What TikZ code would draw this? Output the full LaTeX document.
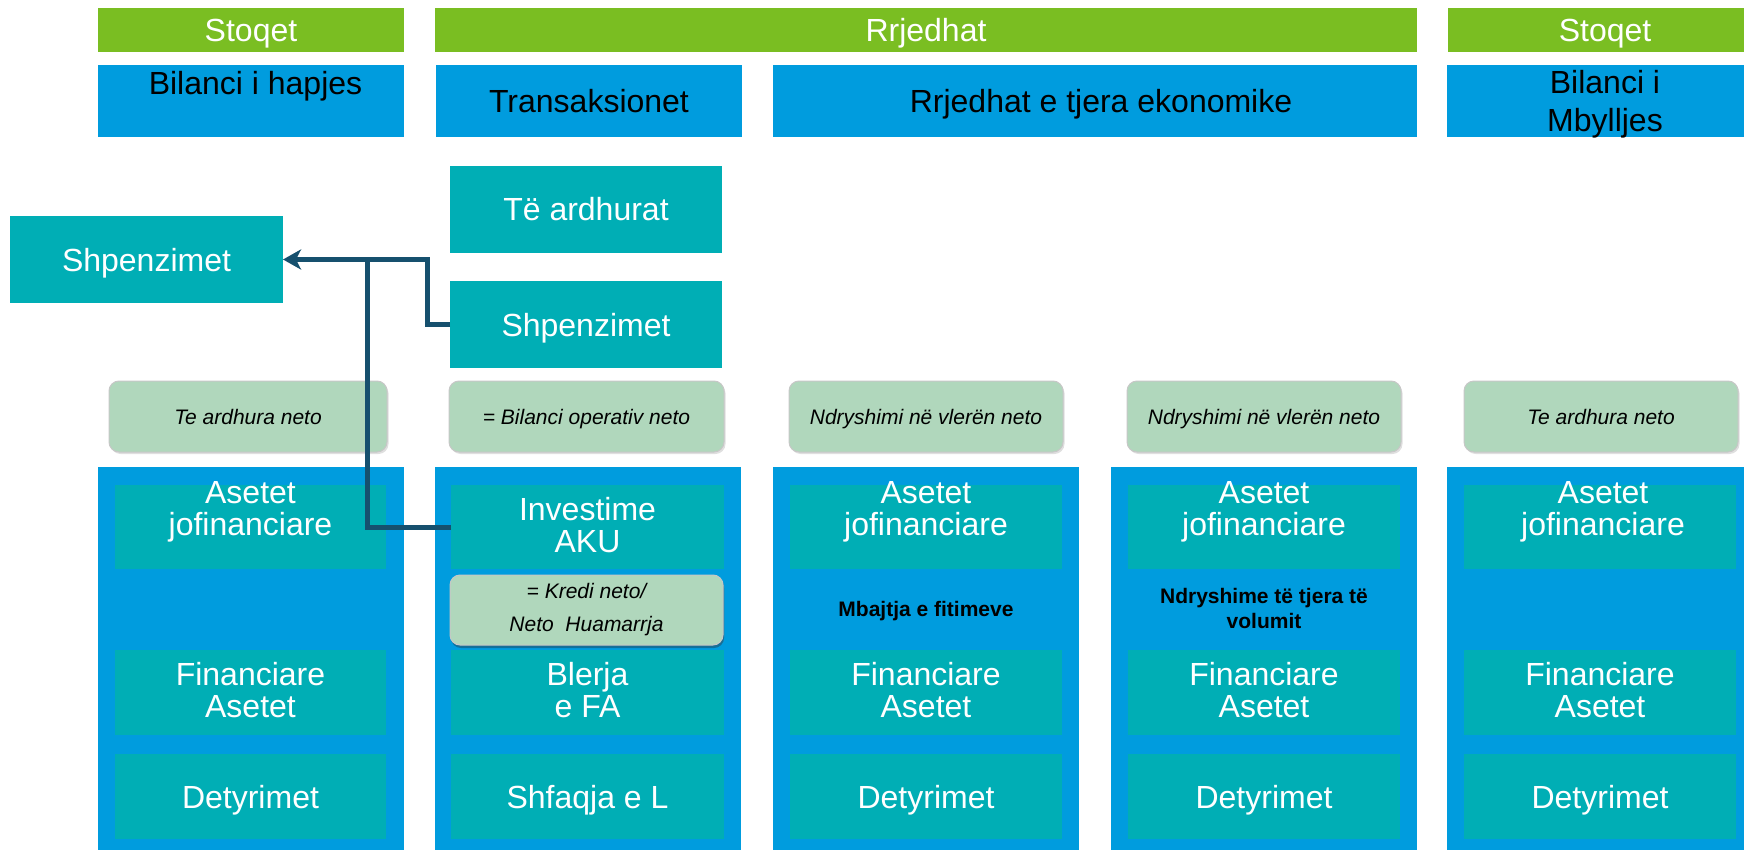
\documentclass[tikz,border=0pt]{standalone}
\usepackage{fontspec}
\setmainfont{Liberation Sans}
\usetikzlibrary{arrows.meta,shadows}
\definecolor{grn}{RGB}{122,190,34}
\definecolor{blu}{RGB}{0,156,222}
\definecolor{tea}{RGB}{0,174,181}
\definecolor{notec}{RGB}{176,215,188}
\definecolor{arrc}{RGB}{22,80,110}
\begin{document}
\begin{tikzpicture}[x=1pt,y=-1pt,
  every node/.style={inner sep=0pt, outer sep=0pt},
  one/.style={text height=23pt, text depth=0pt},
  onesm/.style={text height=15pt, text depth=0pt},
  grnbox/.style={fill=grn, text=white, font=\fontsize{32}{32}\selectfont, one},
  blubox/.style={fill=blu, text=black, font=\fontsize{32}{38}\selectfont, align=center},
  teabox/.style={fill=tea, text=white, font=\fontsize{32}{32}\selectfont, align=center},
  colbox/.style={fill=blu, anchor=north west},
  notebox/.style={fill=notec, draw=black!22, line width=1pt, rounded corners=10pt,
    font=\fontsize{21}{33}\selectfont\itshape, align=center,
    drop shadow={opacity=0.25, shadow xshift=1.5pt, shadow yshift=-2pt}},
  kredibox/.style={notebox, drop shadow={opacity=0.55, fill=arrc, shadow xshift=1pt, shadow yshift=-3pt}},
  midtxt/.style={font=\fontsize{21}{25}\selectfont\bfseries, align=center},
  wtxt/.style={text=white, font=\fontsize{32}{32}\selectfont, align=center},
  btxt/.style={text=black, font=\fontsize{32}{38}\selectfont, align=center},
  conn/.style={draw=arrc, line width=5pt},
]
\useasboundingbox (0,0) rectangle (1744,850);
\clip (0,0) rectangle (1744,850);

% green row
\node[grnbox, minimum width=306, minimum height=44] (g1) at (251,30) {Stoqet};
\node[grnbox, minimum width=982, minimum height=44] (g2) at (926,30) {Rrjedhat};
\node[grnbox, minimum width=314, minimum height=44] (g3) at (1605,30) {Stoqet};

% blue header row
\node[blubox, minimum width=306, minimum height=72] (b1) at (251,101) {};
\node[btxt, one] (b1t) at (255.5,83) {Bilanci i hapjes};
\node[blubox, one, minimum width=306, minimum height=72] (b2) at (589,101) {Transaksionet};
\node[blubox, minimum width=644, minimum height=72] (b3) at (1095,101) {};
\node[btxt, one] (b3t) at (1101,101.5) {Rrjedhat e tjera ekonomike};
\node[blubox, minimum width=316, minimum height=72] (b4) at (1605,101) {};
\node[btxt] (b4t) at (1605,104) {Bilanci i\\Mbylljes};

% income / expense boxes
\node[teabox, one, minimum width=272, minimum height=87] (ta) at (586,209.5) {Të ardhurat};
\node[teabox, one, minimum width=272, minimum height=87] (shpR) at (586,324.5) {Shpenzimet};
\node[teabox, one, minimum width=273, minimum height=87] (shpL) at (146.5,259.5) {Shpenzimet};

% notes
\node[notebox, onesm, minimum width=278, minimum height=71] (n1) at (248,416.5) {Te ardhura neto};
\node[notebox, onesm, minimum width=275, minimum height=71] (n2) at (586.5,416.5) {= Bilanci operativ neto};
\node[notebox, onesm, minimum width=274, minimum height=71] (n3) at (926,416.5) {Ndryshimi në vlerën neto};
\node[notebox, onesm, minimum width=274, minimum height=71] (n4) at (1264,416.5) {Ndryshimi në vlerën neto};
\node[notebox, onesm, minimum width=274, minimum height=71] (n5) at (1601,416.5) {Te ardhura neto};

% columns
\node[colbox, minimum width=306, minimum height=393] (c1) at (98,467) {};
\node[colbox, minimum width=306, minimum height=393] (c2) at (435,467) {};
\node[colbox, minimum width=306, minimum height=393] (c3) at (773,467) {};
\node[colbox, minimum width=306, minimum height=393] (c4) at (1111,467) {};
\node[colbox, minimum width=313, minimum height=393] (c5) at (1447,467) {};

% column 1
\node[teabox, minimum width=271, minimum height=84] (a1) at (250.5,527) {};
\node[wtxt] (a1t) at (250.5,512) {Asetet\\jofinanciare};
\node[teabox, minimum width=271, minimum height=85] (f1) at (250.5,692.5) {};
\node[wtxt] (f1t) at (250.5,690) {Financiare\\Asetet};
\node[teabox, one, minimum width=271, minimum height=85] (d1) at (250.5,796.5) {Detyrimet};

% column 2
\node[teabox, minimum width=273, minimum height=84] (inv) at (587.5,527) {};
\node[wtxt] (invt) at (587.5,525) {Investime\\AKU};
\node[kredibox, minimum width=273, minimum height=70] (kr) at (586.5,610) {= Kredi neto/\\Neto\ \ Huamarrja};
\node[teabox, minimum width=273, minimum height=85] (bl) at (587.5,692.5) {};
\node[wtxt] (blt) at (587.5,690) {Blerja\\e FA};
\node[teabox, one, minimum width=273, minimum height=85] (sh) at (587.5,796.5) {Shfaqja e L};

% column 3
\node[teabox, minimum width=272, minimum height=84] (a3) at (926,527) {};
\node[wtxt] (a3t) at (926,512) {Asetet\\jofinanciare};
\node[midtxt, onesm] (m3) at (926,609) {Mbajtja e fitimeve};
\node[teabox, minimum width=272, minimum height=85] (f3) at (926,692.5) {};
\node[wtxt] (f3t) at (926,690) {Financiare\\Asetet};
\node[teabox, one, minimum width=272, minimum height=85] (d3) at (926,796.5) {Detyrimet};

% column 4
\node[teabox, minimum width=272, minimum height=84] (a4) at (1264,527) {};
\node[wtxt] (a4t) at (1264,512) {Asetet\\jofinanciare};
\node[midtxt] (m4) at (1264,608) {Ndryshime të tjera të\\volumit};
\node[teabox, minimum width=272, minimum height=85] (f4) at (1264,692.5) {};
\node[wtxt] (f4t) at (1264,690) {Financiare\\Asetet};
\node[teabox, one, minimum width=272, minimum height=85] (d4) at (1264,796.5) {Detyrimet};

% column 5
\node[teabox, minimum width=272, minimum height=84] (a5) at (1600,527) {};
\node[wtxt] (a5t) at (1603,512) {Asetet\\jofinanciare};
\node[teabox, minimum width=272, minimum height=85] (f5) at (1600,692.5) {};
\node[wtxt] (f5t) at (1600,690) {Financiare\\Asetet};
\node[teabox, one, minimum width=272, minimum height=85] (d5) at (1600,796.5) {Detyrimet};

% connectors
\coordinate (j1) at (427,259.5);
\coordinate (j2) at (367,259.5);
\draw[conn] (inv.west) -| (j2);
\draw[conn, -{Stealth[length=18pt,width=20pt,inset=5pt]}] (shpR.west) -| (j1) -- (shpL.east);
\end{tikzpicture}
\end{document}
